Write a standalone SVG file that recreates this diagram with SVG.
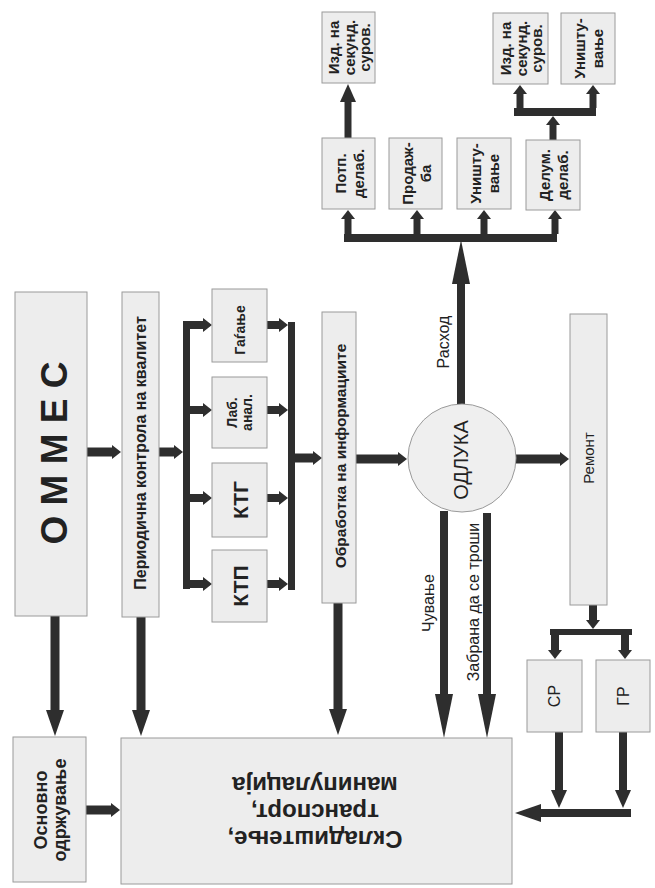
<svg xmlns="http://www.w3.org/2000/svg" width="655" height="888" viewBox="0 0 655 888">
<style>
  .box { fill: #ededed; stroke: #9a9a9a; stroke-width: 1; }
  .circ { fill: #efefef; stroke: #9a9a9a; stroke-width: 1; }
  .bar { fill: #2e2e2e; }
  .t { font-family: "Liberation Sans", Arial, sans-serif; fill: #222; text-anchor: middle; dominant-baseline: central; }
  .b { font-weight: bold; }
  .ln { stroke: #2e2e2e; fill: none; }
  .w9 { stroke-width: 9; }
  .w8 { stroke-width: 8; }
  .w7 { stroke-width: 7; }
  .mB { marker-end: url(#hBig); }
  .mL { marker-end: url(#hLong); }
  .mM { marker-end: url(#hMed); }
  .mS { marker-end: url(#hSmall); }
</style>
<defs>
  <marker id="hBig" markerUnits="userSpaceOnUse" markerWidth="30" markerHeight="20" refX="0" refY="0" orient="auto" overflow="visible"><path d="M0,-9 L26,0 L0,9 Z" fill="#2e2e2e"/></marker>
  <marker id="hLong" markerUnits="userSpaceOnUse" markerWidth="50" markerHeight="20" refX="0" refY="0" orient="auto" overflow="visible"><path d="M0,-9 L44,0 L0,9 Z" fill="#2e2e2e"/></marker>
  <marker id="hMed" markerUnits="userSpaceOnUse" markerWidth="25" markerHeight="20" refX="0" refY="0" orient="auto" overflow="visible"><path d="M0,-8 L18,0 L0,8 Z" fill="#2e2e2e"/></marker>
  <marker id="hSmall" markerUnits="userSpaceOnUse" markerWidth="12" markerHeight="16" refX="0" refY="0" orient="auto" overflow="visible"><path d="M0,-7 L9,0 L0,7 Z" fill="#2e2e2e"/></marker>
</defs>

<g id="connectors">
  <line class="ln w9 mS" x1="87" y1="452" x2="112" y2="452"/>
  <line class="ln w9 mS" x1="159" y1="452" x2="174" y2="452"/>
  <rect class="bar" x="183" y="321" width="7" height="268"/>
  <line class="ln w8 mS" x1="190" y1="325" x2="203" y2="325"/>
  <line class="ln w8 mS" x1="190" y1="410" x2="203" y2="410"/>
  <line class="ln w8 mS" x1="190" y1="498" x2="203" y2="498"/>
  <line class="ln w8 mS" x1="190" y1="584" x2="203" y2="584"/>
  <line class="ln w8 mS" x1="267" y1="325" x2="279" y2="325"/>
  <line class="ln w8 mS" x1="267" y1="410" x2="279" y2="410"/>
  <line class="ln w8 mS" x1="267" y1="498" x2="279" y2="498"/>
  <line class="ln w8 mS" x1="267" y1="584" x2="279" y2="584"/>
  <rect class="bar" x="288" y="322" width="7" height="268"/>
  <line class="ln w9 mS" x1="295" y1="458" x2="313" y2="458"/>
  <line class="ln w9 mS" x1="356" y1="459" x2="398" y2="459"/>
  <line class="ln w9 mS" x1="516" y1="459" x2="560" y2="459"/>
  <line class="ln w8 mL" x1="461" y1="404" x2="461" y2="284"/>
  <rect class="bar" x="344" y="234" width="213" height="8"/>
  <line class="ln w7 mS" x1="348" y1="234" x2="348" y2="219"/>
  <line class="ln w7 mS" x1="417" y1="234" x2="417" y2="219"/>
  <line class="ln w7 mS" x1="484" y1="234" x2="484" y2="219"/>
  <line class="ln w7 mS" x1="555" y1="234" x2="555" y2="219"/>
  <line class="ln w7 mM" x1="348" y1="138" x2="348" y2="102"/>
  <line class="ln w7 mS" x1="553" y1="140" x2="553" y2="125"/>
  <rect class="bar" x="514" y="108" width="82" height="8"/>
  <line class="ln w7 mS" x1="520" y1="108" x2="520" y2="94"/>
  <line class="ln w7 mS" x1="593" y1="108" x2="593" y2="94"/>
  <line class="ln w8 mL" x1="444" y1="511" x2="444" y2="694"/>
  <line class="ln w8 mL" x1="487" y1="513" x2="487" y2="694"/>
  <line class="ln w9 mB" x1="338" y1="603" x2="338" y2="709"/>
  <line class="ln w9 mB" x1="55" y1="616" x2="55" y2="710"/>
  <line class="ln w9 mB" x1="141" y1="617" x2="141" y2="710"/>
  <line class="ln w9 mS" x1="86" y1="810" x2="111" y2="810"/>
  <line class="ln w8 mS" x1="593" y1="605" x2="593" y2="620"/>
  <rect class="bar" x="550" y="629" width="82" height="6"/>
  <line class="ln w8 mS" x1="555" y1="635" x2="555" y2="650"/>
  <line class="ln w8 mS" x1="625" y1="635" x2="625" y2="650"/>
  <line class="ln w8 mM" x1="559" y1="732" x2="559" y2="790"/>
  <line class="ln w8 mM" x1="623" y1="732" x2="623" y2="790"/>
  <line class="ln w8 mB" x1="631" y1="813" x2="541" y2="813"/>
</g>

<g id="n-ommes">
  <rect class="box" x="15" y="292" width="72" height="324"/>
  <text class="t b" font-size="37" transform="rotate(-90 54 453)" x="54" y="453">О М М Е С</text>
</g>
<g id="n-periodicna">
  <rect class="box" x="122" y="292" width="37" height="325"/>
  <text class="t b" font-size="16" transform="rotate(-90 140 453)" x="140" y="453">Периодична контрола на квалитет</text>
</g>
<g id="n-gaganje">
  <rect class="box" x="212" y="289" width="55" height="73"/>
  <text class="t b" font-size="14" transform="rotate(-90 240 330)" x="240" y="330">Гаѓање</text>
</g>
<g id="n-lab">
  <rect class="box" x="212" y="377" width="55" height="71"/>
  <text class="t b" font-size="14" transform="rotate(-90 239.5 412.5)" x="239.5" y="412.5"><tspan x="239.5" y="405">Лаб.</tspan><tspan x="239.5" y="420">анал.</tspan></text>
</g>
<g id="n-ktg">
  <rect class="box" x="212" y="463" width="55" height="74"/>
  <text class="t b" font-size="21" transform="rotate(-90 240 500)" x="240" y="500">КТГ</text>
</g>
<g id="n-ktp">
  <rect class="box" x="212" y="550" width="55" height="72"/>
  <text class="t b" font-size="21" transform="rotate(-90 240 586)" x="240" y="586">КТП</text>
</g>
<g id="n-obrabotka">
  <rect class="box" x="322" y="312" width="34" height="291"/>
  <text class="t b" font-size="15.5" transform="rotate(-90 340 456)" x="340" y="456">Обработка на информациите</text>
</g>
<g id="n-odluka">
  <circle class="circ" cx="462" cy="458" r="54"/>
  <text class="t" font-size="20" transform="rotate(-90 461 460)" x="461" y="460">ОДЛУКА</text>
</g>
<g id="n-remont">
  <rect class="box" x="570" y="314" width="37" height="291"/>
  <text class="t" font-size="15" transform="rotate(-90 588 458)" x="588" y="458">Ремонт</text>
</g>
<g id="n-potp">
  <rect class="box" x="322" y="138" width="53" height="71"/>
  <text class="t b" font-size="15" transform="rotate(-90 348.5 173.5)" x="348.5" y="173.5"><tspan x="348.5" y="164.5">Потп.</tspan><tspan x="348.5" y="182.5">делаб.</tspan></text>
</g>
<g id="n-prodazba">
  <rect class="box" x="389" y="138" width="53" height="71"/>
  <text class="t b" font-size="15" transform="rotate(-90 415.5 173.5)" x="415.5" y="173.5"><tspan x="415.5" y="164.5">Продаж-</tspan><tspan x="415.5" y="182.5">ба</tspan></text>
</g>
<g id="n-unistuvanje1">
  <rect class="box" x="457" y="138" width="54" height="71"/>
  <text class="t b" font-size="15" transform="rotate(-90 484 173.5)" x="484" y="173.5"><tspan x="484" y="164.5">Уништу-</tspan><tspan x="484" y="182.5">вање</tspan></text>
</g>
<g id="n-delum">
  <rect class="box" x="526" y="140" width="54" height="70"/>
  <text class="t b" font-size="15" transform="rotate(-90 553 175)" x="553" y="175"><tspan x="553" y="166">Делум.</tspan><tspan x="553" y="184">делаб.</tspan></text>
</g>
<g id="n-izd1">
  <rect class="box" x="322" y="12" width="53" height="71"/>
  <text class="t b" font-size="15" transform="rotate(-90 348.5 47.5)" x="348.5" y="47.5"><tspan x="348.5" y="32">Изд. на</tspan><tspan x="348.5" y="47.5">секунд.</tspan><tspan x="348.5" y="63">суров.</tspan></text>
</g>
<g id="n-izd2">
  <rect class="box" x="493" y="13" width="55" height="71"/>
  <text class="t b" font-size="15" transform="rotate(-90 520.5 48.5)" x="520.5" y="48.5"><tspan x="520.5" y="33">Изд. на</tspan><tspan x="520.5" y="48.5">секунд.</tspan><tspan x="520.5" y="64">суров.</tspan></text>
</g>
<g id="n-unistuvanje2">
  <rect class="box" x="561" y="13" width="54" height="71"/>
  <text class="t b" font-size="15" transform="rotate(-90 588 48.5)" x="588" y="48.5"><tspan x="588" y="39.5">Уништу-</tspan><tspan x="588" y="57.5">вање</tspan></text>
</g>
<g id="n-sr">
  <rect class="box" x="527" y="660" width="55" height="72"/>
  <text class="t" font-size="16" transform="rotate(-90 554.5 696)" x="554.5" y="696">СР</text>
</g>
<g id="n-gr">
  <rect class="box" x="596" y="660" width="54" height="72"/>
  <text class="t" font-size="16" transform="rotate(-90 623 696)" x="623" y="696">ГР</text>
</g>
<g id="n-osnovno">
  <rect class="box" x="13" y="737" width="73" height="145"/>
  <text class="t b" font-size="18" transform="rotate(-90 50 810)" x="50" y="810"><tspan x="50" y="800.5">Основно</tspan><tspan x="50" y="819.5">одржување</tspan></text>
</g>
<g id="n-skladistenje">
  <rect class="box" x="121" y="738" width="391" height="146"/>
  <text class="t b" font-size="24" transform="rotate(180 315 813)" x="315" y="813"><tspan x="315" y="786">Складиштење,</tspan><tspan x="315" y="813">транспорт,</tspan><tspan x="315" y="840">манипулација</tspan></text>
</g>

<g id="labels">
  <text class="t" font-size="16" transform="rotate(-90 443 342)" x="443" y="342">Расход</text>
  <text class="t" font-size="16" transform="rotate(-90 428 603)" x="428" y="603">Чување</text>
  <text class="t" font-size="16" transform="rotate(-90 473 602)" x="473" y="602">Забрана да се троши</text>
</g>
</svg>
